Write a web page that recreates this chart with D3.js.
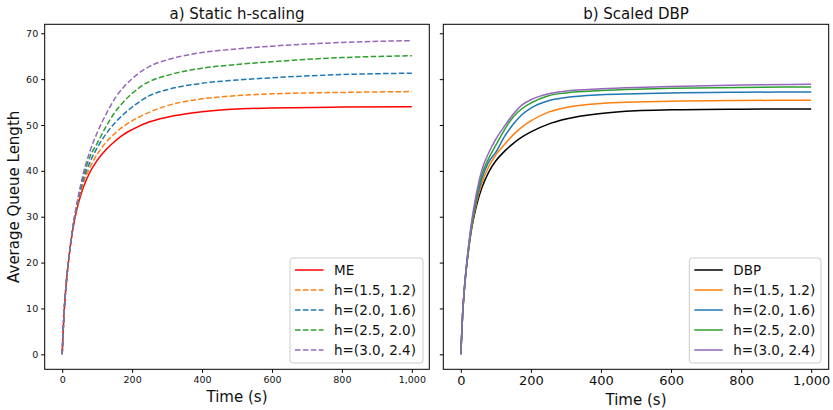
<!DOCTYPE html>
<html>
<head>
<meta charset="utf-8">
<script src="https://cdn.jsdelivr.net/npm/d3@7"></script>
<style>
  body { margin: 0; background: #fff; }
  text { font-family: "DejaVu Sans", sans-serif; fill: #111; }
</style>
</head>
<body>
<script>
// 幅と高さ
const w = 833;
const h = 410;

// data
const times = [0, 5, 10, 20, 30, 45, 60, 80, 100, 125, 150, 175, 200, 250, 300, 400, 500, 600, 800, 1000];

// a) Static h-scaling
const meVals   = [0, 8.5, 14, 21.5, 27, 32.5, 36.3, 39.8, 42.3, 44.6, 46.4, 47.9, 49.0, 50.7, 51.7, 52.9, 53.5, 53.7, 53.9, 54.0];
const staticH1 = [0, 8.5, 14, 21.6, 27.2, 33, 37.2, 40.9, 43.6, 46.2, 48.1, 49.7, 50.9, 52.8, 54.2, 55.7, 56.4, 56.8, 57.1, 57.3];
const staticH2 = [0, 8.5, 14, 21.6, 27.3, 33.4, 37.9, 42, 45, 48, 50.4, 52.3, 53.9, 56.4, 57.7, 59.1, 59.8, 60.3, 61, 61.3];
const staticH3 = [0, 8.5, 14, 21.6, 27.4, 33.7, 38.6, 43.2, 46, 49.6, 52.7, 55.0, 56.9, 59.5, 60.8, 62.4, 63.2, 63.8, 64.7, 65.1];
const staticH4 = [0, 8.5, 14, 21.6, 27.5, 34, 39.3, 44.4, 48.3, 52.3, 55.7, 58.2, 60.1, 62.8, 64.2, 65.8, 66.6, 67.2, 68, 68.4];

// b) Scaled DBP
const dbpVals  = [0, 8.5, 14, 21.5, 27, 32.5, 36.3, 39.8, 42.2, 44.3, 46, 47.4, 48.5, 50.2, 51.3, 52.5, 53.1, 53.3, 53.45, 53.5];
const scaledH1 = [0, 8.5, 14, 21.6, 27.3, 33.2, 37.3, 41, 43.5, 45.8, 47.9, 49.6, 50.9, 52.8, 53.8, 54.7, 55.0, 55.2, 55.35, 55.4];
const scaledH2 = [0, 8.5, 14.1, 21.8, 27.6, 33.8, 38.3, 42, 44.1, 47.5, 50.2, 52.3, 53.7, 55.3, 56, 56.6, 56.8, 57, 57.15, 57.2];
const scaledH3 = [0, 8.5, 14.2, 22, 28, 34.5, 39.2, 42.8, 45.6, 49, 51.8, 53.6, 54.8, 56.4, 57, 57.5, 57.8, 58, 58.2, 58.3];
const scaledH4 = [0, 8.5, 14.3, 22.3, 28.5, 35.3, 40.2, 44, 46.9, 49.8, 52.4, 54.4, 55.5, 56.8, 57.4, 57.9, 58.2, 58.4, 58.7, 58.9];

const hLabels = ["h=(1.5, 1.2)", "h=(2.0, 1.6)", "h=(2.5, 2.0)", "h=(3.0, 2.4)"];
const hColors = ["#ff7f0e", "#1f77b4", "#2ca02c", "#9467bd"];
const xTicks = [0, 200, 400, 600, 800, 1000];
const yTicks = [0, 10, 20, 30, 40, 50, 60, 70];

const panels = [
  {
    title: "a) Static h-scaling",
    left: 44.7, right: 429.3,
    series: [{ name: "ME", vals: meVals, color: "red", dash: null }]
      .concat([staticH1, staticH2, staticH3, staticH4].map((v, i) => ({ name: hLabels[i], vals: v, color: hColors[i], dash: "5.5,2.4" }))),
    tickFont: 9.5, showY: true, legendX: 290
  },
  {
    title: "b) Scaled DBP",
    left: 443.3, right: 828.7,
    series: [{ name: "DBP", vals: dbpVals, color: "black", dash: null }]
      .concat([scaledH1, scaledH2, scaledH3, scaledH4].map((v, i) => ({ name: hLabels[i], vals: v, color: hColors[i], dash: null }))),
    tickFont: 13, showY: false, legendX: 689.3
  }
];

const plotTop = 24.3, plotBottom = 369.3;
const yScale = d3.scaleLinear().domain([-3.27, 71.96]).range([plotBottom, plotTop]);

const svg = d3.select("body").append("svg").attr("width", w).attr("height", h);

panels.forEach(function (p) {
  const xScale = d3.scaleLinear().domain([-50, 1050]).range([p.left, p.right]);
  const g = svg.append("g");

  const line = d3.line()
    .x((d, i) => xScale(times[i]))
    .y(d => yScale(d))
    .curve(d3.curveMonotoneX);

  g.selectAll("path.series")
    .data(p.series)
    .enter()
    .append("path")
    .attr("class", "series")
    .attr("d", d => line(d.vals))
    .attr("fill", "none")
    .attr("stroke", d => d.color)
    .attr("stroke-width", 1.5)
    .attr("stroke-dasharray", d => d.dash);

  // X軸
  const xAxis = d3.axisBottom(xScale).tickValues(xTicks).tickSize(3.5).tickPadding(3);
  const gx = g.append("g").attr("transform", "translate(0," + plotBottom + ")").call(xAxis);
  gx.select(".domain").remove();
  gx.selectAll("text").attr("font-size", p.tickFont).attr("font-family", "DejaVu Sans").attr("fill", "#222");

  // Y軸
  const yAxis = d3.axisLeft(yScale).tickValues(yTicks).tickSize(3.5).tickPadding(3);
  if (!p.showY) yAxis.tickFormat("");
  const gy = g.append("g").attr("transform", "translate(" + p.left + ",0)").call(yAxis);
  gy.select(".domain").remove();
  gy.selectAll("text").attr("font-size", 9.5).attr("font-family", "DejaVu Sans").attr("fill", "#222");

  // frame
  g.append("rect")
    .attr("x", p.left).attr("y", plotTop)
    .attr("width", p.right - p.left).attr("height", plotBottom - plotTop)
    .attr("fill", "none").attr("stroke", "#000").attr("stroke-width", 1);

  g.append("text")
    .attr("x", (p.left + p.right) / 2).attr("y", 19)
    .attr("text-anchor", "middle").attr("font-size", 15)
    .text(p.title);

  g.append("text")
    .attr("x", (p.left + p.right) / 2).attr("y", p.showY ? 402 : 405)
    .attr("text-anchor", "middle").attr("font-size", 15)
    .text("Time (s)");

  // legend
  const lg = g.append("g").attr("transform", "translate(" + p.legendX + ",258)");
  lg.append("rect")
    .attr("width", p.showY ? 133 : 131.7).attr("height", 105).attr("rx", 3)
    .attr("fill", "white").attr("fill-opacity", 0.8)
    .attr("stroke", "#ccc").attr("stroke-width", 1);
  const items = lg.selectAll("g.item").data(p.series).enter().append("g")
    .attr("class", "item")
    .attr("transform", (d, i) => "translate(0," + (12 + i * 20) + ")");
  items.append("line")
    .attr("x1", 5).attr("x2", 33.5)
    .attr("stroke", d => d.color).attr("stroke-width", 1.5)
    .attr("stroke-dasharray", d => d.dash);
  items.append("text")
    .attr("x", 44).attr("y", 5).attr("font-size", 13.5)
    .text(d => d.name);
});

svg.append("text")
  .attr("transform", "translate(19," + (plotTop + plotBottom) / 2 + ") rotate(-90)")
  .attr("text-anchor", "middle").attr("font-size", 15)
  .text("Average Queue Length");
</script>
</body>
</html>
